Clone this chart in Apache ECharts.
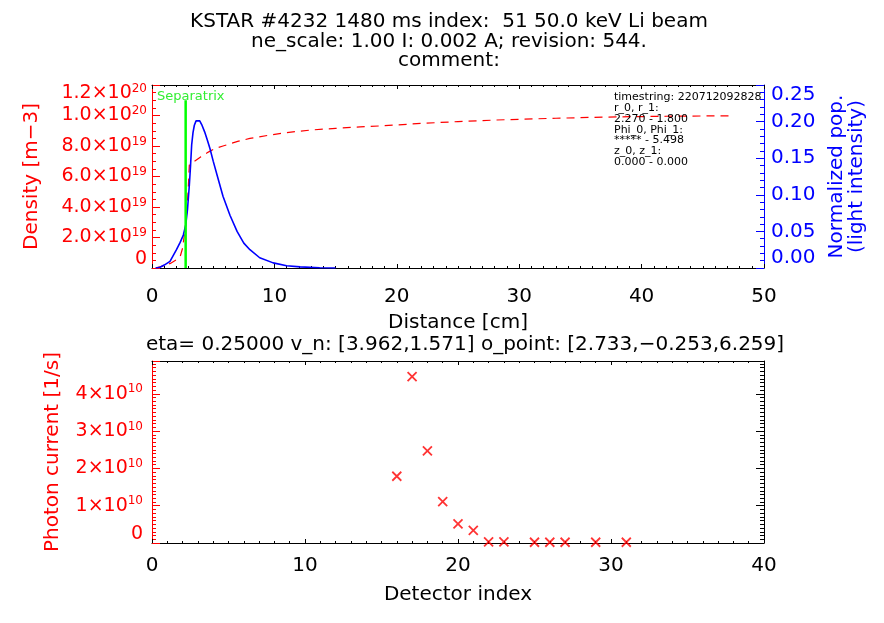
<!DOCTYPE html>
<html><head><meta charset="utf-8">
<script src="https://cdn.jsdelivr.net/npm/echarts@6/dist/echarts.min.js"></script>
<style>html,body{margin:0;padding:0;background:#fff}#c{width:884px;height:623px}</style>
</head><body><div id="c"></div>
<script>
// ---- data ----
const titleLines = ['KSTAR #4232 1480 ms index:  51 50.0 keV Li beam', 'ne_scale: 1.00 I: 0.002 A; revision: 544.', 'comment:'];
const infoLines = ['timestring: 220712092828', 'r_0, r_1:', '2.270 - 1.800', 'Phi_0, Phi_1:', '***** - 5.498', 'z_0, z_1:', '0.000 - 0.000'];
const bottomTitle = 'eta= 0.25000 v_n: [3.962,1.571] o_point: [2.733,\u22120.253,6.259]';

const densityX = [0.3, 1.0, 1.5, 2.0, 2.3, 2.5, 2.65, 2.8, 2.95, 3.05, 3.3, 3.65, 4.0, 4.6, 5.2, 5.8, 7.0, 8.0, 9.5, 11, 13, 15, 17, 19, 22, 25, 28, 30, 33, 36, 39, 42, 45, 47.3];
const densityY = [0, 0.15e19, 0.3e19, 0.55e19, 0.75e19, 1.3e19, 2.2e19, 3.2e19, 5.0e19, 6.75e19, 6.9e19, 7.1e19, 7.3e19, 7.6e19, 7.85e19, 8.0e19, 8.3e19, 8.5e19, 8.7e19, 8.88e19, 9.05e19, 9.16e19, 9.25e19, 9.33e19, 9.48e19, 9.6e19, 9.7e19, 9.75e19, 9.82e19, 9.88e19, 9.92e19, 9.95e19, 9.97e19, 9.98e19];

const lightX = [0.3, 0.65, 1.0, 1.47, 2.0, 2.3, 2.56, 2.75, 2.9, 3.05, 3.15, 3.24, 3.35, 3.46, 3.6, 3.73, 3.9, 4.06, 4.3, 4.5, 4.74, 5.0, 5.4, 5.8, 6.37, 6.95, 7.5, 8.0, 8.8, 9.9, 11, 12.1, 13.7, 15];
const lightY = [0, 0.001, 0.004, 0.009, 0.025, 0.035, 0.045, 0.058, 0.08, 0.113, 0.14, 0.168, 0.185, 0.195, 0.201, 0.203, 0.201, 0.196, 0.186, 0.176, 0.163, 0.146, 0.122, 0.098, 0.072, 0.05, 0.034, 0.025, 0.014, 0.007, 0.003, 0.0015, 0.0003, 0];

const separatrixX = [2.75, 2.75];
const separatrixY = [0, 1.1e20];

const detectorIndex = [16, 17, 18, 19, 20, 21, 22, 23, 25, 26, 27, 29, 31];
const photonCurrent = [1.79e10, 4.46e10, 2.47e10, 1.11e10, 0.51e10, 0.34e10, 0.03e10, 0.03e10, 0.02e10, 0.02e10, 0.02e10, 0.02e10, 0.02e10];

const densityTickMant = ['0', '2.0\u00d710', '4.0\u00d710', '6.0\u00d710', '8.0\u00d710', '1.0\u00d710', '1.2\u00d710'];
const densityTickExp = ['', '19', '19', '19', '19', '20', '20'];
const lightTickLabels = ['0.00', '0.05', '0.10', '0.15', '0.20', '0.25'];
const photonTickMant = ['0', '1\u00d710', '2\u00d710', '3\u00d710', '4\u00d710'];
const photonTickExp = ['', '10', '10', '10', '10'];

// ---- chart ----
const chart = echarts.init(document.getElementById('c'), null, {renderer: 'canvas'});
const FONT = 'DejaVu Sans';
const FS = 20;
const RED = '#ff0000', BLUE = '#0000ff', BLACK = '#000';

function supRich(color) {
  return {
    m: {fontFamily: FONT, fontSize: 19, lineHeight: 17, color: color},
    e: {fontFamily: FONT, fontSize: 12, lineHeight: 10, color: color, padding: [0, 0, 9, 0]}
  };
}
function idx(v, step) { return Math.round(v / step); }

const xCommon = {
  type: 'value', splitLine: {show: false},
  axisLine: {onZero: false, lineStyle: {color: BLACK, width: 1}},
  axisTick: {inside: true, length: 4, lineStyle: {color: BLACK}},
  minorTick: {show: true, splitNumber: 10, length: 2, lineStyle: {color: BLACK}},
  minorSplitLine: {show: false}
};

const option = {
  animation: false,
  backgroundColor: '#fff',
  grid: [
    {left: 152, top: 85, width: 612, height: 183},
    {left: 152, top: 361, width: 612, height: 182}
  ],
  xAxis: [
    Object.assign({}, xCommon, {gridIndex: 0, position: 'bottom', min: 0, max: 50, interval: 10,
      axisLabel: {fontFamily: FONT, fontSize: FS, color: BLACK, margin: 19},
      name: 'Distance [cm]', nameLocation: 'middle', nameGap: 45,
      nameTextStyle: {fontFamily: FONT, fontSize: FS, color: BLACK}}),
    Object.assign({}, xCommon, {gridIndex: 0, position: 'top', min: 0, max: 50, interval: 10,
      axisLabel: {show: false}}),
    Object.assign({}, xCommon, {gridIndex: 1, position: 'bottom', min: 0, max: 40, interval: 10,
      axisLabel: {fontFamily: FONT, fontSize: FS, color: BLACK, margin: 13},
      name: 'Detector index', nameLocation: 'middle', nameGap: 42,
      nameTextStyle: {fontFamily: FONT, fontSize: FS, color: BLACK}}),
    Object.assign({}, xCommon, {gridIndex: 1, position: 'top', min: 0, max: 40, interval: 10,
      axisLabel: {show: false}})
  ],
  yAxis: [
    {type: 'value', gridIndex: 0, position: 'left', min: 0, max: 1.2e20, interval: 2e19,
      splitLine: {show: false},
      axisLine: {show: true, onZero: false, lineStyle: {color: RED}},
      axisTick: {show: true, inside: true, length: 8, lineStyle: {color: RED}},
      minorTick: {show: true, splitNumber: 4, length: 4, lineStyle: {color: RED}},
      axisLabel: {margin: 5, showMaxLabel: true, showMinLabel: true, hideOverlap: false,
        verticalAlignMaxLabel: 'top', verticalAlignMinLabel: 'bottom',
        formatter: v => { const i = idx(v, 2e19); return densityTickExp[i] ? '{m|' + densityTickMant[i] + '}{e|' + densityTickExp[i] + '}' : '{m|' + densityTickMant[i] + '}'; },
        rich: supRich(RED)},
      name: 'Density [m\u22123]', nameLocation: 'middle', nameGap: 110, nameRotate: 90,
      nameTextStyle: {fontFamily: FONT, fontSize: FS, color: RED}},
    {type: 'value', gridIndex: 0, position: 'right', min: 0, max: 0.25, interval: 0.05,
      splitLine: {show: false},
      axisLine: {show: true, onZero: false, lineStyle: {color: BLUE}},
      axisTick: {show: true, inside: true, length: 8, lineStyle: {color: BLUE}},
      minorTick: {show: true, splitNumber: 5, length: 4, lineStyle: {color: BLUE}},
      axisLabel: {margin: 7, fontFamily: FONT, fontSize: FS, color: BLUE, showMaxLabel: true,
        verticalAlignMaxLabel: 'top', verticalAlignMinLabel: 'bottom',
        formatter: v => lightTickLabels[idx(v, 0.05)]},
      name: 'Normalized pop.\n(light intensity)', nameLocation: 'middle', nameGap: 61, nameRotate: 90,
      nameTextStyle: {fontFamily: FONT, fontSize: FS, color: BLUE, lineHeight: 20}},
    {type: 'value', gridIndex: 1, position: 'left', min: 0, max: 4.88e10, interval: 1e10,
      splitLine: {show: false},
      axisLine: {show: true, onZero: false, lineStyle: {color: RED}},
      axisTick: {show: true, inside: true, length: 8, lineStyle: {color: RED}},
      minorTick: {show: true, splitNumber: 10, length: 4, lineStyle: {color: RED}},
      axisLabel: {margin: 9, showMaxLabel: false, verticalAlignMinLabel: 'bottom',
        formatter: v => { const i = idx(v, 1e10); if (i >= photonTickMant.length) return ''; return photonTickExp[i] ? '{m|' + photonTickMant[i] + '}{e|' + photonTickExp[i] + '}' : '{m|' + photonTickMant[i] + '}'; },
        rich: supRich(RED)},
      name: 'Photon current [1/s]', nameLocation: 'middle', nameGap: 89, nameRotate: 90,
      nameTextStyle: {fontFamily: FONT, fontSize: FS, color: RED}},
    {type: 'value', gridIndex: 1, position: 'right', min: 0, max: 4.88e10, interval: 1e10,
      splitLine: {show: false},
      axisLine: {show: true, onZero: false, lineStyle: {color: BLACK}},
      axisTick: {show: true, inside: true, length: 8, lineStyle: {color: BLACK}},
      minorTick: {show: true, splitNumber: 10, length: 4, lineStyle: {color: BLACK}},
      axisLabel: {show: false}}
  ],
  series: [
    {type: 'line', xAxisIndex: 0, yAxisIndex: 0, symbol: 'none', silent: true,
      data: densityX.map((x, i) => [x, densityY[i]]),
      lineStyle: {color: RED, width: 1.2, type: [8, 6]}},
    {type: 'line', xAxisIndex: 0, yAxisIndex: 1, symbol: 'none', silent: true,
      data: lightX.map((x, i) => [x, lightY[i]]),
      lineStyle: {color: BLUE, width: 1.6}},
    {type: 'line', xAxisIndex: 0, yAxisIndex: 0, symbol: 'none', silent: true,
      data: separatrixX.map((x, i) => [x, separatrixY[i]]),
      lineStyle: {color: '#00ff00', width: 2.5}},
    {type: 'scatter', xAxisIndex: 2, yAxisIndex: 2, silent: true,
      symbol: 'path://M0,0L10,10M10,0L0,10', symbolSize: 9,
      itemStyle: {color: 'rgba(0,0,0,0)', borderColor: RED, borderWidth: 1.8},
      data: detectorIndex.map((x, i) => [x, photonCurrent[i]])}
  ],
  graphic: [
    {type: 'text', x: 449, y: 22, style: {text: titleLines[0], font: FS + 'px ' + FONT, fill: BLACK, textAlign: 'center', textVerticalAlign: 'middle'}},
    {type: 'text', x: 449, y: 42, style: {text: titleLines[1], font: FS + 'px ' + FONT, fill: BLACK, textAlign: 'center', textVerticalAlign: 'middle'}},
    {type: 'text', x: 449, y: 61, style: {text: titleLines[2], font: FS + 'px ' + FONT, fill: BLACK, textAlign: 'center', textVerticalAlign: 'middle'}},
    {type: 'text', x: 157, y: 97, style: {text: 'Separatrix', font: '13px ' + FONT, fill: '#33ee33', textVerticalAlign: 'middle'}},
    {type: 'text', x: 614, y: 92, style: {text: infoLines.join('\n'), font: '11px ' + FONT, fill: BLACK, lineHeight: 10.8, textVerticalAlign: 'top'}, z: 10},
    {type: 'text', x: 465, y: 345, style: {text: bottomTitle, font: FS + 'px ' + FONT, fill: BLACK, textAlign: 'center', textVerticalAlign: 'middle'}}
  ]
};
chart.setOption(option);
</script>
</body></html>
